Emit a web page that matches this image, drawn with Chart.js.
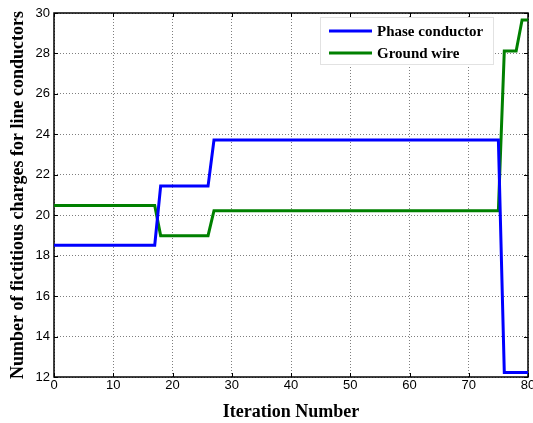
<!DOCTYPE html>
<html>
<head>
<meta charset="utf-8">
<script src="https://cdn.jsdelivr.net/npm/chart.js@4.4.1/dist/chart.umd.min.js"></script>
<style>
  html, body { margin: 0; padding: 0; background: #fff; }
  #wrap { width: 533px; height: 423px; }
</style>
</head>
<body>
<div id="wrap"><canvas id="c" width="533" height="423"></canvas></div>
<script>
// Iterations where the values change (lines are straight between them)
const iterations = [0, 17, 18, 26, 27, 75, 76, 78, 79, 80];
const phaseConductor = [18.52, 18.52, 21.44, 21.44, 23.72, 23.72, 12.22, 12.22, 12.22, 12.22];
const groundWire = [20.48, 20.48, 18.99, 18.99, 20.22, 20.22, 28.12, 28.12, 29.65, 29.65];
const seriesNames = ['Phase conductor', 'Ground wire'];
const seriesColors = ['#0000ff', '#008000'];
const xTicks = [0, 10, 20, 30, 40, 50, 60, 70, 80];
const yTicks = [12, 14, 16, 18, 20, 22, 24, 26, 28, 30];

const toPoints = vals => iterations.map((x, i) => ({ x: x, y: vals[i] }));

// Box around the axes with short inward tick marks on all sides
const frameTicks = {
  id: 'frameTicks',
  beforeDatasetsDraw(chart) {
    const { ctx, chartArea: a, scales } = chart;
    ctx.save();
    ctx.strokeStyle = '#000';
    ctx.lineWidth = 1;
    const len = 4;
    ctx.beginPath();
    xTicks.forEach(v => {
      const px = Math.round(scales.x.getPixelForValue(v)) + 0.5;
      ctx.moveTo(px, a.bottom); ctx.lineTo(px, a.bottom - len);
      ctx.moveTo(px, a.top); ctx.lineTo(px, a.top + len);
    });
    yTicks.forEach(v => {
      const py = Math.round(scales.y.getPixelForValue(v)) + 0.5;
      ctx.moveTo(a.left, py); ctx.lineTo(a.left + len, py);
      ctx.moveTo(a.right, py); ctx.lineTo(a.right - len, py);
    });
    ctx.stroke();
    ctx.lineWidth = 1.5;
    ctx.strokeRect(a.left, a.top, a.right - a.left, a.bottom - a.top);
    ctx.restore();
  }
};

// Legend box in the upper right corner of the plot
const innerLegend = {
  id: 'innerLegend',
  afterDatasetsDraw(chart) {
    const { ctx } = chart;
    const bx = 320, by = 17, bw = 173, bh = 47;
    ctx.save();
    ctx.fillStyle = '#fff';
    ctx.fillRect(bx, by, bw, bh);
    ctx.strokeStyle = '#e2e2e2';
    ctx.lineWidth = 1;
    ctx.strokeRect(bx + 0.5, by + 0.5, bw, bh);
    ctx.font = 'bold 15px "Liberation Serif", "Times New Roman", serif';
    ctx.textBaseline = 'middle';
    ctx.textAlign = 'left';
    chart.data.datasets.forEach((ds, i) => {
      const y = by + 14 + i * 22;
      ctx.strokeStyle = ds.borderColor;
      ctx.lineWidth = 3;
      ctx.beginPath();
      ctx.moveTo(bx + 9, y);
      ctx.lineTo(bx + 52, y);
      ctx.stroke();
      ctx.fillStyle = '#000';
      ctx.fillText(ds.label, bx + 57, y + 1);
    });
    ctx.restore();
  }
};

const gridStyle = {
  color: 'rgba(0,0,0,0.5)',
  lineWidth: 1,
  drawTicks: false
};

new Chart(document.getElementById('c'), {
  type: 'line',
  data: {
    datasets: [
      { label: seriesNames[0], data: toPoints(phaseConductor), borderColor: seriesColors[0], borderWidth: 3, pointRadius: 0, tension: 0, fill: false },
      { label: seriesNames[1], data: toPoints(groundWire), borderColor: seriesColors[1], borderWidth: 3, pointRadius: 0, tension: 0, fill: false }
    ]
  },
  options: {
    responsive: false,
    animation: false,
    layout: { autoPadding: false, padding: { top: 13, right: 5, left: 0, bottom: 0 } },
    plugins: { legend: { display: false }, tooltip: { enabled: false } },
    scales: {
      x: {
        type: 'linear',
        min: 0, max: 80,
        afterBuildTicks: s => { s.ticks = xTicks.map(v => ({ value: v })); },
        afterFit: s => { s.height = 46; s.paddingLeft = 0; s.paddingRight = 0; },
        grid: Object.assign({ borderDash: [1, 2] }, gridStyle),
        border: { display: false, dash: [1, 2] },
        ticks: { color: '#000', padding: 1, maxRotation: 0, font: { family: '"Liberation Sans", Arial, sans-serif', size: 13 } },
        title: { display: true, text: 'Iteration Number', color: '#000', padding: { top: 0, bottom: 0 }, font: { family: '"Liberation Serif", "Times New Roman", serif', size: 18, weight: 'bold' } }
      },
      y: {
        min: 12, max: 30,
        afterBuildTicks: s => { s.ticks = yTicks.map(v => ({ value: v })); },
        afterFit: s => { s.width = 54; s.paddingTop = 0; s.paddingBottom = 0; },
        grid: gridStyle,
        border: { display: false, dash: [1, 2] },
        ticks: { color: '#000', padding: 4, font: { family: '"Liberation Sans", Arial, sans-serif', size: 13 } },
        title: { display: true, text: 'Number of fictitious charges for line conductors', color: '#000', padding: { top: 8, bottom: 0 }, font: { family: '"Liberation Serif", "Times New Roman", serif', size: 18, weight: 'bold' } }
      }
    }
  },
  plugins: [frameTicks, innerLegend]
});
</script>
</body>
</html>
